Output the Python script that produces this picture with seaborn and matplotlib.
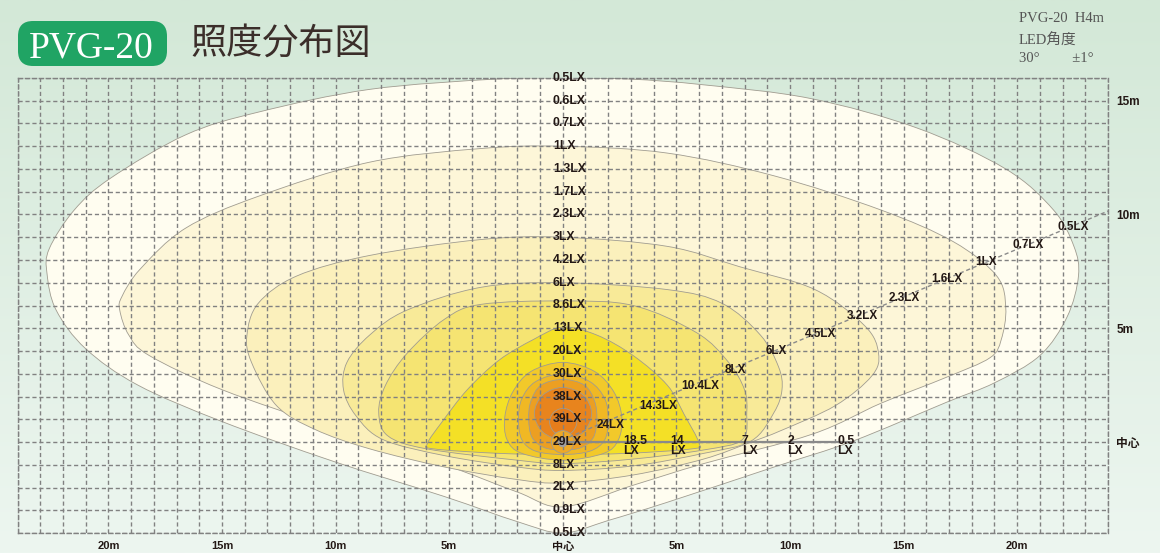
import numpy as np
import pandas as pd
import matplotlib
matplotlib.use("Agg")
import matplotlib.pyplot as plt
import seaborn as sns
from matplotlib.path import Path
from matplotlib.patches import PathPatch, FancyBboxPatch
from matplotlib.transforms import IdentityTransform
from matplotlib.colors import LinearSegmentedColormap

# ---------------- data ----------------
# illuminance (y = 16 m ... -4 m)
center_y = list(range(16, -5, -1))
center_lux = ["0.5", "0.6", "0.7", "1", "1.3", "1.7", "2.3", "3", "4.2", "6", "8.6",
              "13", "20", "30", "38", "39", "29", "8", "2", "0.9", "0.5"]

# readings along the slanted ray
ray_x = [2.09, 4.19, 6.04, 7.61, 9.38, 11.37, 13.18, 15.01, 16.91, 18.62, 20.47, 22.46]
ray_y = [0.74, 1.59, 2.44, 3.17, 4.00, 4.74, 5.55, 6.34, 7.16, 7.92, 8.67, 9.47]
ray_lux = ["24", "14.3", "10.4", "8", "6", "4.5", "3.2", "2.3", "1.6", "1", "0.7", "0.5"]
ray_line_x = [0.0, 24.0]
ray_line_y = [0.1, 10.15]

# readings along the y = 0 line
floor_x = [2.67, 4.72, 7.88, 9.89, 12.09]
floor_lux = ["18.5", "14", "7", "2", "0.5"]
floor_line_x = [0.0, 12.8]

# axis labels
bottom_ticks = [-20, -15, -10, -5, 0, 5, 10, 15, 20]
bottom_labels = ["20m", "15m", "10m", "5m", "中心", "5m", "10m", "15m", "20m"]
right_ticks = [15, 10, 5, 0]
right_labels = ["15m", "10m", "5m", "中心"]

# iso-lux boundaries (m)
lx05_x = [0, -3.0, -8.5, -13.4, -16.6, -19.9, -21.5, -22.6, -22.7, -22.3, -21.0, -18.7, -15.0,
          -10.1, -5.2, -2.0, 0.0, 2.0, 4.6, 9.3, 12.8, 16.9, 19.0, 21.0, 22.2, 22.7, 22.5, 21.6,
          19.5, 15.6, 10.9, 6.2, 3.0]
lx05_y = [16.0, 15.95, 15.5, 14.5, 13.5, 11.6, 10.2, 8.5, 7.4, 5.8, 4.1, 2.5, 0.9, -0.85, -2.4,
          -3.5, -4.0, -3.45, -2.65, -1.1, 0.05, 1.75, 2.6, 3.8, 5.5, 7.3, 8.6, 10.2, 12.0, 13.8,
          15.1, 15.7, 15.95]

lx1_x = [0, -3.6, -8.5, -13.4, -16.6, -18.6, -19.4, -19.5, -19.1, -18.2, -15.0, -10.1, -5.2,
         -2.0, 0.0, 3.1, 6.2, 11.0, 14.0, 16.9, 18.8, 19.3, 19.5, 19.1, 17.2, 14.0, 9.3, 4.6]
lx1_y = [13.0, 12.9, 12.3, 10.8, 9.4, 7.6, 6.4, 5.8, 4.7, 3.8, 2.3, 0.6, -1.0, -2.2, -2.85,
         -1.9, -0.95, 0.35, 1.7, 2.85, 3.7, 4.5, 5.9, 7.3, 8.8, 10.2, 11.7, 12.7]

lx3_x = [0, -3.6, -8.5, -11.7, -13.4, -13.9, -13.7, -12.6, -10.9, -8.5, -5.2, -2.0, 0.0, 3.1,
         6.2, 8.3, 9.6, 12.0, 13.6, 13.9, 13.3, 11.1, 7.8, 4.6]
lx3_y = [9.0, 8.9, 8.2, 7.3, 6.1, 4.7, 3.5, 1.6, 0.55, -0.3, -1.1, -1.65, -1.8, -1.45, -0.75,
         0.0, 0.5, 1.6, 2.9, 3.9, 5.1, 6.7, 7.7, 8.6]

lx6_x = [0, -3.6, -6.85, -8.5, -9.5, -9.65, -9.1, -7.9, -5.2, -2.0, 0.0, 3.1, 6.2, 8.3, 9.3,
         9.65, 9.5, 8.7, 7.0, 4.6]
lx6_y = [7.0, 6.8, 5.8, 4.7, 3.5, 2.3, 1.15, 0.1, -0.6, -1.1, -1.25, -1.05, -0.5, 0.05, 1.3,
         2.3, 3.3, 4.7, 6.1, 6.7]

lx8_x = [0, -3.6, -5.2, -6.85, -7.8, -8.1, -7.7, -6.0, -2.0, 0.0, 3.1, 6.2, 7.9, 8.1, 8.0,
         7.3, 5.9, 3.1]
lx8_y = [6.2, 6.05, 5.4, 3.9, 2.5, 1.3, 0.27, -0.3, -0.8, -0.95, -0.75, -0.35, 0.1, 1.3, 2.3,
         3.5, 4.8, 6.0]

lx13_x = [0, -1.3, -2.8, -4.2, -5.3, -5.95, -5.7, -2.8, 0.0, 2.8, 5.7, 6.0, 5.35, 4.6, 3.1, 1.5]
lx13_y = [5.05, 4.5, 3.6, 2.3, 0.9, -0.05, -0.3, -0.5, -0.55, -0.5, -0.3, -0.05, 1.2, 2.5, 3.8, 4.7]

lx24_x = [0, -1.4, -2.2, -2.55, -2.45, -1.8, 0.0, 1.8, 2.45, 2.6, 2.25, 1.4]
lx24_y = [3.5, 3.1, 2.2, 1.1, 0.1, -0.5, -0.8, -0.5, 0.1, 1.1, 2.2, 3.1]

lx30_x = [0, -1.2, -1.8, -1.95, -1.8, -1.2, 0.0, 1.2, 1.85, 2.0, 1.85, 1.2]
lx30_y = [3.0, 2.65, 1.9, 1.0, 0.1, -0.4, -0.55, -0.4, 0.1, 1.0, 1.9, 2.65]

lx34_x = [0, -0.95, -1.4, -1.5, -1.35, -0.8, 0.0, 0.8, 1.35, 1.5, 1.4, 0.95]
lx34_y = [2.75, 2.5, 1.8, 1.0, 0.2, -0.25, -0.35, -0.25, 0.2, 1.0, 1.8, 2.5]

lx38_x = [0, -0.88, -1.25, -0.88, 0.0, 0.9, 1.27, 0.9]
lx38_y = [2.4, 2.06, 1.25, 0.44, 0.1, 0.44, 1.25, 2.06]

lx39_x = [0.02, -0.4, -0.58, -0.4, 0.02, 0.44, 0.62, 0.44]
lx39_y = [1.48, 1.3, 0.88, 0.46, 0.28, 0.46, 0.88, 1.3]

lamp_ring_x = [0, -0.35, -0.5, -0.35, 0, 0.35, 0.5, 0.35]
lamp_ring_y = [0.5, 0.35, 0.0, -0.35, -0.5, -0.35, 0.0, 0.35]

lamp_x = [0.0]
lamp_y = [0.0]

zones = [
    (lx05_x, lx05_y, "#FFFDF0"),
    (lx1_x, lx1_y, "#FDF6D8"),
    (lx3_x, lx3_y, "#FBF0BC"),
    (lx6_x, lx6_y, "#F8EA98"),
    (lx8_x, lx8_y, "#F5E472"),
    (lx13_x, lx13_y, "#F4E026"),
    (lx24_x, lx24_y, "#F2C92A"),
    (lx30_x, lx30_y, "#F0B824"),
    (lx34_x, lx34_y, "#EC9F22"),
    (lx38_x, lx38_y, "#E8841D"),
    (lx39_x, lx39_y, "#E67D1B"),
    (lamp_ring_x, lamp_ring_y, "#EEA927"),
]


def smooth_closed_path(xs, ys):
    pts = np.column_stack([xs, ys]).astype(float)
    n = len(pts)
    verts = [pts[0]]
    codes = [Path.MOVETO]
    for i in range(n):
        p0, p1, p2, p3 = pts[(i - 1) % n], pts[i], pts[(i + 1) % n], pts[(i + 2) % n]
        verts += [p1 + (p2 - p0) / 6.0, p2 - (p3 - p1) / 6.0, p2]
        codes += [Path.CURVE4] * 3
    verts.append(pts[0])
    codes.append(Path.CLOSEPOLY)
    return Path(np.array(verts), codes)


# ---------------- figure ----------------
sns.set_theme(style="white")
plt.rcParams["font.family"] = ["Liberation Sans", "Noto Sans CJK JP", "DejaVu Sans"]
plt.rcParams["lines.scale_dashes"] = False

W, H = 1160, 553
fig = plt.figure(figsize=(W / 100, H / 100), dpi=100)

bg = fig.add_axes([0, 0, 1, 1], zorder=-10)
bg.imshow(np.linspace(0, 1, 256)[:, None], aspect="auto", extent=[0, 1, 0, 1],
          cmap=LinearSegmentedColormap.from_list("bg", ["#D3E8D7", "#EDF6F0"]))
bg.axis("off")

ax = fig.add_axes([17.5 / W, 20 / H, 1090.5 / W, 455 / H])
ax.set_facecolor("none")
ax.set_xlim(-24, 24)
ax.set_ylim(-4, 16)

for zx, zy, col in zones:
    ax.add_patch(PathPatch(smooth_closed_path(zx, zy), facecolor=col,
                           edgecolor="#A09C90", lw=0.6, zorder=1))

# grid
grid_col = "#818181"
ax.set_axisbelow(False)
ax.set_xticks(range(-24, 25), minor=True)
ax.set_yticks(range(-4, 17), minor=True)
ax.grid(True, which="both", color=grid_col, lw=1.0, ls=(0, (3, 2)))
for s in ax.spines.values():
    s.set_visible(True)
    s.set_linestyle((0, (3, 2)))
    s.set_color(grid_col)
    s.set_linewidth(1.0)

txt_col = "#231815"
ax.set_xticks(bottom_ticks)
ax.set_xticklabels(bottom_labels, fontsize=8, fontweight="bold", color=txt_col)
ax.yaxis.tick_right()
ax.set_yticks(right_ticks)
ax.set_yticklabels(right_labels, fontsize=8.5, fontweight="bold", color=txt_col)
ax.tick_params(which="both", length=0)
ax.tick_params(axis="x", pad=6)
ax.tick_params(axis="y", pad=6)

# measurement lines
sns.lineplot(x=ray_line_x, y=ray_line_y, ax=ax, color="#8A8A8A", lw=1.0,
             linestyle=(0, (3, 2)), zorder=2.6, sort=False, estimator=None)
sns.lineplot(x=floor_line_x, y=[0, 0], ax=ax, color="#8A8A8A", lw=1.6,
             zorder=2.6, sort=False, estimator=None)
sns.scatterplot(x=lamp_x, y=lamp_y, ax=ax, s=55, color="#9E9E9E", edgecolor="none",
                zorder=2.7)

# labels
for yv, lv in zip(center_y, center_lux):
    ax.text(-0.44, yv, lv + "LX", ha="left", va="center", fontsize=8.8,
            fontweight="bold", color=txt_col, zorder=4, clip_on=False)
for xv, yv, lv in zip(ray_x, ray_y, ray_lux):
    ax.text(xv, yv, lv + "LX", ha="center", va="center", fontsize=8.5,
            fontweight="bold", color=txt_col, zorder=4)
for xv, lv in zip(floor_x, floor_lux):
    ax.text(xv, -0.17, lv + "\nLX", ha="left", va="center", fontsize=8.8,
            fontweight="bold", color=txt_col, zorder=4, linespacing=0.85)

# title
fig.add_artist(FancyBboxPatch((18, H - 66), 149, 45,
                              boxstyle="round,pad=0,rounding_size=15",
                              facecolor="#20A464", edgecolor="none",
                              transform=IdentityTransform()))
fig.text(91, H - 57, "PVG-20", transform=IdentityTransform(), ha="center",
         va="baseline", fontsize=27, color="white", family=["Liberation Serif"])
fig.text(190, H - 44, "照度分布図", transform=IdentityTransform(), ha="left",
         va="center", fontsize=26, color="#3B2E2A", family=["Noto Sans CJK JP"])

info_font = ["Liberation Serif", "Noto Sans CJK JP"]
fig.text(1019, H - 22, "PVG-20  H4m", transform=IdentityTransform(), ha="left",
         va="baseline", fontsize=10.5, color="#555555", family=info_font)
fig.text(1019, H - 45, "LED角度", transform=IdentityTransform(), ha="left",
         va="baseline", fontsize=10.5, color="#555555", family=info_font)
fig.text(1019, H - 62, "30°         ±1°", transform=IdentityTransform(), ha="left",
         va="baseline", fontsize=10.5, color="#555555", family=info_font)

fig.savefig("out.png", dpi=100)
